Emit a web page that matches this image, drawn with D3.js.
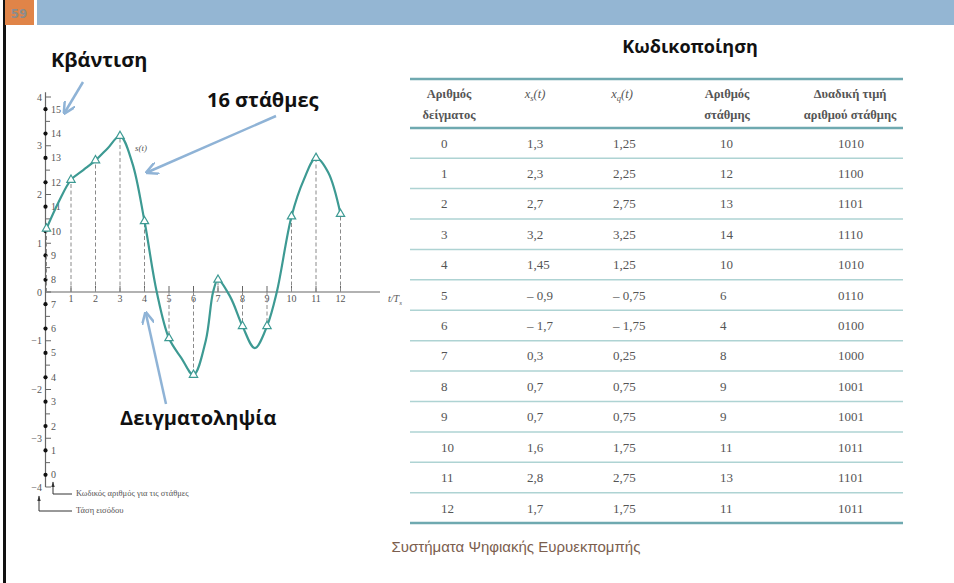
<!DOCTYPE html>
<html>
<head>
<meta charset="utf-8">
<script src="https://cdn.jsdelivr.net/npm/d3@7"></script>
<style>
  body { margin: 0; background: #fff; }
  svg { display: block; }
  .serif { font-family: "Liberation Serif", "DejaVu Serif", serif; }
  .title { font-family: "Open Sans", "Noto Sans", sans-serif; font-weight: 700; fill: #111; }
</style>
</head>
<body>
<div id="chart"></div>
<script>
// Continuous signal s(t)
const signalT = [0, 0.5, 1, 1.5, 2, 2.5, 3, 3.5, 4, 4.5, 5, 5.5, 6, 6.5, 6.8, 7, 7.5, 8, 8.5, 9, 9.4, 10, 10.5, 11, 11.5, 12];
const signalV = [1.3, 1.85, 2.3, 2.5, 2.7, 2.95, 3.2, 2.65, 1.45, 0, -0.95, -1.35, -1.7, -1.0, 0, 0.25, -0.1, -0.7, -1.15, -0.7, 0, 1.55, 2.3, 2.75, 2.45, 1.6];

// Sample points (triangles) at t = 0..12
const sampleT = [0, 1, 2, 3, 4, 5, 6, 7, 8, 9, 10, 11, 12];
const sampleV = [1.3, 2.3, 2.7, 3.2, 1.45, -0.95, -1.7, 0.25, -0.7, -0.7, 1.55, 2.75, 1.6];

// Axis ticks
const voltTicks = [4, 3, 2, 1, 0, -1, -2, -3, -4];
const halfTicks = [3.5, 2.5, 1.5, 0.5, -0.5, -1.5, -2.5, -3.5];
const levelCodes = [15, 14, 13, 12, 11, 10, 9, 8, 7, 6, 5, 4, 3, 2, 1, 0];
const timeTicks = [1, 2, 3, 4, 5, 6, 7, 8, 9, 10, 11, 12];

// Table (Κωδικοποίηση)
const tableHeader1 = ["Αριθμός", "", "", "Αριθμός", "Δυαδική τιμή"];
const tableHeader2 = ["δείγματος", "", "", "στάθμης", "αριθμού στάθμης"];
const sampleNo = [0, 1, 2, 3, 4, 5, 6, 7, 8, 9, 10, 11, 12];
const xsValues = [1.3, 2.3, 2.7, 3.2, 1.45, -0.9, -1.7, 0.3, 0.7, 0.7, 1.6, 2.8, 1.7];
const xqValues = [1.25, 2.25, 2.75, 3.25, 1.25, -0.75, -1.75, 0.25, 0.75, 0.75, 1.75, 2.75, 1.75];
const levelNo = [10, 12, 13, 14, 10, 6, 4, 8, 9, 9, 11, 13, 11];
const binaryCode = ["1010", "1100", "1101", "1110", "1010", "0110", "0100", "1000", "1001", "1001", "1011", "1101", "1011"];

const W = 954, H = 583;
const svg = d3.select("#chart").append("svg")
    .attr("width", W)
    .attr("height", H);

// slide frame
svg.append("rect").attr("x", 3).attr("y", 0).attr("width", 3).attr("height", H).attr("fill", "#111");
svg.append("rect").attr("x", 5).attr("y", 0).attr("width", 29).attr("height", 25).attr("fill", "#e08448");
svg.append("rect").attr("x", 37).attr("y", 0).attr("width", W - 37).attr("height", 25).attr("fill", "#94b6d3");
svg.append("text")
    .attr("x", 19).attr("y", 18)
    .attr("text-anchor", "middle")
    .style("font-family", "'Liberation Sans Narrow', 'DejaVu Sans Condensed', sans-serif")
    .style("font-weight", 700)
    .style("font-size", "13px")
    .style("fill", "#8c8c8c")
    .text("59");

// defs: arrowheads
const defs = svg.append("defs");
defs.append("marker")
    .attr("id", "blueArrow")
    .attr("viewBox", "0 0 10 10")
    .attr("refX", 8).attr("refY", 5)
    .attr("markerWidth", 5).attr("markerHeight", 5)
    .attr("orient", "auto")
    .append("path")
    .attr("d", "M0,0 L10,5 L0,10")
    .attr("fill", "none")
    .attr("stroke", "#8fb3d6")
    .attr("stroke-width", 2);
defs.append("marker")
    .attr("id", "smallArrow")
    .attr("viewBox", "0 0 10 10")
    .attr("refX", 9).attr("refY", 5)
    .attr("markerWidth", 6).attr("markerHeight", 6)
    .attr("orient", "auto")
    .append("path")
    .attr("d", "M0,2 L10,5 L0,8 Z")
    .attr("fill", "#333");

// ---------- left figure ----------
const x = d3.scaleLinear().domain([0, 12]).range([46.5, 340.5]);
const y = d3.scaleLinear().domain([-4, 4]).range([487, 97]);
const axisColor = "#666";
const labelColor = "#555";

const fig = svg.append("g").attr("class", "serif");

// y axis line
fig.append("line")
    .attr("x1", 45.5).attr("x2", 45.5)
    .attr("y1", y(4.1)).attr("y2", y(-4))
    .attr("stroke", axisColor).attr("stroke-width", 1.2);

// major ticks + voltage labels
fig.selectAll(".ytick")
    .data(voltTicks)
    .enter().append("line")
    .attr("x1", 45.5).attr("x2", 51)
    .attr("y1", d => y(d)).attr("y2", d => y(d))
    .attr("stroke", axisColor).attr("stroke-width", 1);
fig.selectAll(".ylab")
    .data(voltTicks)
    .enter().append("text")
    .attr("x", 42).attr("y", d => y(d))
    .attr("dy", "0.35em")
    .attr("text-anchor", "end")
    .style("font-size", "10px")
    .style("fill", labelColor)
    .text(d => d < 0 ? "\u2212" + Math.abs(d) : d);
fig.selectAll(".yminor")
    .data(halfTicks)
    .enter().append("line")
    .attr("x1", 45.5).attr("x2", 50)
    .attr("y1", d => y(d)).attr("y2", d => y(d))
    .attr("stroke", axisColor).attr("stroke-width", 1);

// quantisation level dots
fig.selectAll(".lvl")
    .data(levelCodes)
    .enter().append("circle")
    .attr("cx", 45.5)
    .attr("cy", d => y((d - 8) * 0.5 + 0.25))
    .attr("r", 2.1)
    .attr("fill", "#111");
fig.selectAll(".lvlLab")
    .data(levelCodes)
    .enter().append("text")
    .attr("x", 51).attr("y", d => y((d - 8) * 0.5 + 0.25))
    .attr("dy", "0.35em")
    .style("font-size", "10px")
    .style("fill", labelColor)
    .text(d => d);

// x axis
fig.append("line")
    .attr("x1", 45.5).attr("x2", 380)
    .attr("y1", y(0)).attr("y2", y(0))
    .attr("stroke", axisColor).attr("stroke-width", 1.2);
fig.selectAll(".xtick")
    .data(timeTicks)
    .enter().append("line")
    .attr("x1", d => x(d)).attr("x2", d => x(d))
    .attr("y1", y(0)).attr("y2", y(0) - 6)
    .attr("stroke", axisColor).attr("stroke-width", 1);
fig.selectAll(".xlab")
    .data(timeTicks)
    .enter().append("text")
    .attr("x", d => x(d)).attr("y", y(0) + 10)
    .attr("text-anchor", "middle")
    .style("font-size", "10px")
    .style("fill", labelColor)
    .text(d => d);
const tl = fig.append("text")
    .attr("x", 388).attr("y", y(0) + 10)
    .style("font-size", "10px")
    .style("font-style", "italic")
    .style("fill", labelColor);
tl.append("tspan").text("t/T");
tl.append("tspan").attr("dy", 3).style("font-size", "7px").text("s");

// dashed sample lines
fig.selectAll(".stem")
    .data(sampleT.map((t, i) => [t, sampleV[i]]))
    .enter().append("line")
    .attr("x1", d => x(d[0])).attr("x2", d => x(d[0]))
    .attr("y1", y(0)).attr("y2", d => y(d[1]))
    .attr("stroke", "#8a8a8a")
    .attr("stroke-width", 1)
    .attr("stroke-dasharray", "4,2.5");

// signal curve
const line = d3.line()
    .x(d => x(d[0]))
    .y(d => y(d[1]))
    .curve(d3.curveCatmullRom.alpha(0.5));
fig.append("path")
    .datum(signalT.map((t, i) => [t, signalV[i]]))
    .attr("d", line)
    .attr("fill", "none")
    .attr("stroke", "#3d9a93")
    .attr("stroke-width", 2.2);

// sample triangles
const tri = d3.symbol().type(d3.symbolTriangle).size(30);
fig.selectAll(".samp")
    .data(sampleT.map((t, i) => [t, sampleV[i]]))
    .enter().append("path")
    .attr("d", tri)
    .attr("transform", d => `translate(${x(d[0])},${y(d[1])})`)
    .attr("fill", "#fff")
    .attr("stroke", "#3d9a93")
    .attr("stroke-width", 1.2);

fig.append("text")
    .attr("x", 135).attr("y", 151)
    .style("font-size", "9px")
    .style("font-style", "italic")
    .style("fill", labelColor)
    .text("s(t)");

// legend brackets at the bottom of the axis
fig.append("path")
    .attr("d", "M53,494 L53,482")
    .attr("stroke", "#333").attr("stroke-width", 1)
    .attr("marker-end", "url(#smallArrow)");
fig.append("path")
    .attr("d", "M53,494 L72,494")
    .attr("stroke", "#333").attr("stroke-width", 1);
fig.append("path")
    .attr("d", "M39,511 L39,496")
    .attr("stroke", "#333").attr("stroke-width", 1)
    .attr("marker-end", "url(#smallArrow)");
fig.append("path")
    .attr("d", "M39,511 L72,511")
    .attr("stroke", "#333").attr("stroke-width", 1);
fig.append("text")
    .attr("x", 76).attr("y", 496)
    .style("font-size", "8.5px").style("fill", labelColor)
    .text("Κωδικός αριθμός για τις στάθμες");
fig.append("text")
    .attr("x", 76).attr("y", 513)
    .style("font-size", "8.5px").style("fill", labelColor)
    .text("Τάση εισόδου");

// ---------- annotations ----------
svg.append("text").attr("class", "title")
    .attr("x", 51).attr("y", 67).style("font-size", "20px")
    .text("Κβάντιση");
svg.append("text").attr("class", "title")
    .attr("x", 207).attr("y", 107).style("font-size", "20px")
    .text("16 στάθμες");
svg.append("text").attr("class", "title")
    .attr("x", 120).attr("y", 425).style("font-size", "20px")
    .text("Δειγματοληψία");
svg.append("text").attr("class", "title")
    .attr("x", 690).attr("y", 53).attr("text-anchor", "middle").style("font-size", "18px")
    .text("Κωδικοποίηση");

const arrows = [
    [[83, 82], [65, 112]],
    [[276, 116], [148, 172]],
    [[166, 404], [146, 314]]
];
svg.selectAll(".arrow")
    .data(arrows)
    .enter().append("line")
    .attr("x1", d => d[0][0]).attr("y1", d => d[0][1])
    .attr("x2", d => d[1][0]).attr("y2", d => d[1][1])
    .attr("stroke", "#8fb3d6")
    .attr("stroke-width", 2.5)
    .attr("marker-end", "url(#blueArrow)");

// ---------- table ----------
const tbl = svg.append("g").attr("class", "serif");
const tLeft = 410, tRight = 903;
const colX = [441, 527, 613, 720, 838];
const headCenter = [449, 535, 622, 727, 850];
const rowY = d3.scaleLinear().domain([0, 12]).range([143, 508]);
const fmt = v => (v < 0 ? "\u2013 " : "") + String(Math.abs(v)).replace(".", ",");

tbl.append("line")
    .attr("x1", tLeft).attr("x2", tRight).attr("y1", 79).attr("y2", 79)
    .attr("stroke", "#6fa9b0").attr("stroke-width", 2.5);
tbl.append("line")
    .attr("x1", tLeft).attr("x2", tRight).attr("y1", 128).attr("y2", 128)
    .attr("stroke", "#6fa9b0").attr("stroke-width", 2.5);
tbl.append("line")
    .attr("x1", tLeft).attr("x2", tRight).attr("y1", rowY(12) + 15).attr("y2", rowY(12) + 15)
    .attr("stroke", "#6fa9b0").attr("stroke-width", 2.5);
tbl.selectAll(".sep")
    .data(sampleNo.slice(0, 12))
    .enter().append("line")
    .attr("x1", tLeft).attr("x2", tRight)
    .attr("y1", d => rowY(d) + 15.2).attr("y2", d => rowY(d) + 15.2)
    .attr("stroke", "#aed3d3").attr("stroke-width", 1.5);

// header
const headStyle = s => s.style("font-size", "12.5px").style("font-weight", 700).style("fill", "#555").attr("text-anchor", "middle");
tbl.selectAll(".h1").data(tableHeader1).enter().append("text")
    .attr("x", (d, i) => headCenter[i]).attr("y", 98).text(d => d).call(headStyle);
tbl.selectAll(".h2").data(tableHeader2).enter().append("text")
    .attr("x", (d, i) => headCenter[i]).attr("y", 119).text(d => d).call(headStyle);
[["x", "s", 535], ["x", "q", 622]].forEach(([b, sub, cx]) => {
    const t = tbl.append("text").attr("x", cx).attr("y", 98)
        .call(headStyle).style("font-style", "italic").style("font-weight", 400);
    t.append("tspan").text(b);
    t.append("tspan").attr("dy", 3).style("font-size", "8.5px").text(sub);
    t.append("tspan").attr("dy", -3).text("(t)");
});

// rows
const rows = sampleNo.map((n, i) => [String(n), fmt(xsValues[i]), fmt(xqValues[i]), String(levelNo[i]), binaryCode[i]]);
rows.forEach((r, i) => {
    tbl.selectAll(".c" + i).data(r).enter().append("text")
        .attr("x", (d, j) => colX[j])
        .attr("y", rowY(i))
        .attr("dy", "0.35em")
        .style("font-size", "13px")
        .style("fill", "#555")
        .text(d => d);
});

// footer
svg.append("text")
    .attr("x", 516).attr("y", 552)
    .attr("text-anchor", "middle")
    .style("font-family", "'Liberation Sans', Arial, sans-serif")
    .style("font-size", "15px")
    .style("fill", "#7b5e4e")
    .text("Συστήματα Ψηφιακής Ευρυεκπομπής");
</script>
</body>
</html>
